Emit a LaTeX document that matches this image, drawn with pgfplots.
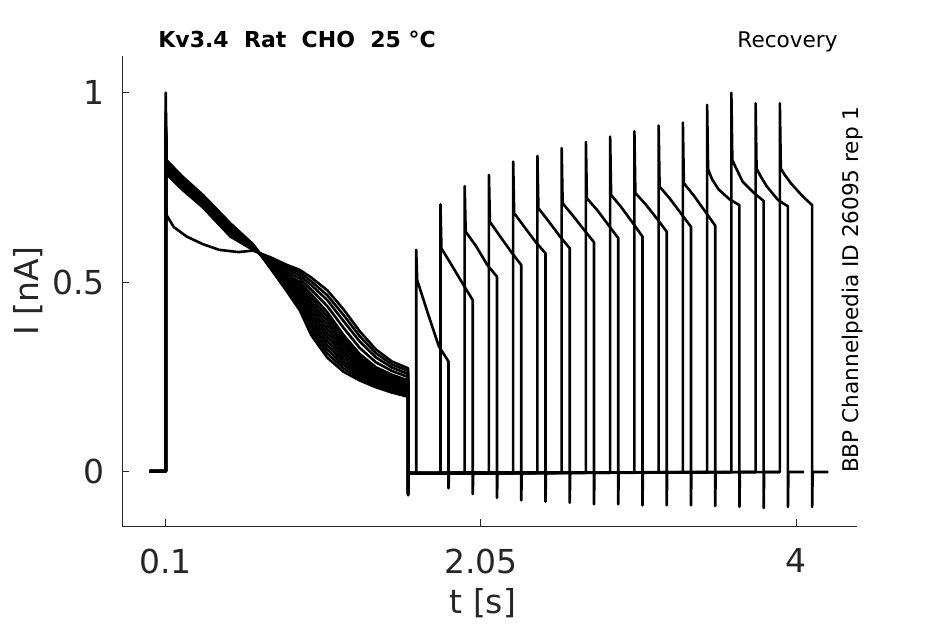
\documentclass[border=0pt]{standalone}
\usepackage{fontspec}
\setmainfont{DejaVu Sans}
\usepackage{pgfplots}
\pgfplotsset{compat=1.18}
\definecolor{axgray}{RGB}{38,38,38}
\pgfplotsset{tr/.style={black, line width=1.3pt, line join=round, mark=none}}
\begin{document}
\begin{tikzpicture}
\useasboundingbox (-61.15pt,-48.85pt) rectangle (411.35pt,263.15pt);
\begin{axis}[
 at={(0,0)}, anchor=south west,
 scale only axis, width=367.2pt, height=235.15pt,
 xmin=-0.1686, xmax=4.3756, ymin=-0.1453, ymax=1.097,
 axis x line*=bottom, axis y line*=left,
 axis line style={draw=axgray, line width=0.5pt, -},
 xtick={0.1,2.05,4}, xticklabels={0.1,2.05,4},
 ytick={0,0.5,1}, yticklabels={0,0.5,1},
 tick align=inside, major tick length=3.5pt,
 tick style={draw=axgray, line width=0.5pt},
 ticklabel style={font=\fontsize{16.5}{18}\selectfont, text=axgray, inner sep=0pt},
 xticklabel style={yshift=-11pt},
 yticklabel style={xshift=-8.65pt},
 /pgf/number format/assume math mode=true,
 xlabel={t [s]}, ylabel={I [nA]},
 label style={font=\fontsize{16.5}{18}\selectfont, text=axgray},
 xlabel style={at={(axis description cs:0.491,-0.163)}, anchor=center},
 ylabel style={at={(axis description cs:-0.1284,0.5)}, anchor=center},
]
% trace 0
\addplot[tr] coordinates {(0,0) (0.1,0) (0.1,0.90) (0.105,0.677) (0.15,0.645) (0.23,0.62) (0.33,0.60) (0.43,0.585) (0.55,0.579) (0.64,0.583) (0.75,0.565) (0.85,0.545) (0.93,0.532) (1.0,0.512) (1.1,0.478) (1.2,0.428) (1.3,0.370) (1.4,0.322) (1.5,0.290) (1.6,0.272) (1.6,-0.050) (1.603,-0.005) (1.65,-0.005) (1.65,0.585) (1.656,0.505) (1.72,0.42) (1.79,0.33) (1.85,0.29) (1.85,-0.045) (1.853,-0.005) (1.95,-0.005)};
% trace 1
\addplot[tr] coordinates {(0,0) (0.1,0) (0.1,0.88) (0.105,0.785) (0.2,0.745) (0.33,0.697) (0.5,0.620) (0.64,0.585) (0.75,0.562) (0.85,0.540) (0.93,0.525) (1.0,0.502) (1.1,0.465) (1.2,0.413) (1.3,0.357) (1.4,0.312) (1.5,0.282) (1.6,0.265) (1.6,-0.051) (1.603,-0.005) (1.80,-0.005) (1.80,0.705) (1.806,0.589) (1.87,0.544) (1.94,0.494) (2.00,0.452) (2.00,-0.060) (2.003,-0.005) (2.10,-0.005)};
% trace 2
\addplot[tr] coordinates {(0,0) (0.1,0) (0.1,0.87) (0.105,0.789) (0.2,0.749) (0.33,0.701) (0.5,0.624) (0.64,0.587) (0.75,0.558) (0.85,0.534) (0.93,0.517) (1.0,0.492) (1.1,0.452) (1.2,0.397) (1.3,0.343) (1.4,0.301) (1.5,0.274) (1.6,0.257) (1.6,-0.052) (1.603,-0.005) (1.95,-0.005) (1.95,0.753) (1.956,0.633) (2.02,0.595) (2.09,0.545) (2.15,0.514) (2.15,-0.070) (2.153,-0.005) (2.25,-0.005)};
% trace 3
\addplot[tr] coordinates {(0,0) (0.1,0) (0.1,0.89) (0.105,0.794) (0.2,0.753) (0.33,0.705) (0.5,0.628) (0.64,0.589) (0.75,0.554) (0.85,0.527) (0.93,0.509) (1.0,0.480) (1.1,0.436) (1.2,0.379) (1.3,0.326) (1.4,0.288) (1.5,0.265) (1.6,0.249) (1.6,-0.053) (1.603,-0.005) (2.10,-0.005) (2.10,0.783) (2.106,0.659) (2.17,0.620) (2.24,0.578) (2.30,0.545) (2.30,-0.077) (2.303,-0.005) (2.40,-0.005)};
% trace 4
\addplot[tr] coordinates {(0,0) (0.1,0) (0.1,0.86) (0.105,0.798) (0.2,0.757) (0.33,0.709) (0.5,0.632) (0.64,0.590) (0.75,0.550) (0.85,0.520) (0.93,0.500) (1.0,0.468) (1.1,0.420) (1.2,0.360) (1.3,0.310) (1.4,0.275) (1.5,0.255) (1.6,0.240) (1.6,-0.054) (1.603,-0.005) (2.25,-0.005) (2.25,0.818) (2.256,0.682) (2.32,0.645) (2.39,0.605) (2.45,0.576) (2.45,-0.080) (2.453,-0.005) (2.55,-0.004)};
% trace 5
\addplot[tr] coordinates {(0,0) (0.1,0) (0.1,0.88) (0.105,0.800) (0.2,0.759) (0.33,0.710) (0.5,0.634) (0.64,0.591) (0.75,0.549) (0.85,0.516) (0.93,0.493) (1.0,0.458) (1.1,0.409) (1.2,0.351) (1.3,0.304) (1.4,0.270) (1.5,0.251) (1.6,0.236) (1.6,-0.055) (1.603,-0.005) (2.40,-0.004) (2.40,0.833) (2.406,0.695) (2.47,0.660) (2.54,0.620) (2.60,0.589) (2.60,-0.083) (2.603,-0.004) (2.70,-0.004)};
% trace 6
\addplot[tr] coordinates {(0,0) (0.1,0) (0.1,0.90) (0.105,0.802) (0.2,0.761) (0.33,0.712) (0.5,0.636) (0.64,0.592) (0.75,0.547) (0.85,0.512) (0.93,0.486) (1.0,0.448) (1.1,0.398) (1.2,0.342) (1.3,0.297) (1.4,0.265) (1.5,0.246) (1.6,0.232) (1.6,-0.056) (1.603,-0.005) (2.55,-0.004) (2.55,0.854) (2.556,0.708) (2.62,0.675) (2.69,0.637) (2.75,0.605) (2.75,-0.087) (2.753,-0.004) (2.85,-0.004)};
% trace 7
\addplot[tr] coordinates {(0,0) (0.1,0) (0.1,0.87) (0.105,0.804) (0.2,0.763) (0.33,0.714) (0.5,0.638) (0.64,0.593) (0.75,0.546) (0.85,0.508) (0.93,0.480) (1.0,0.439) (1.1,0.387) (1.2,0.334) (1.3,0.291) (1.4,0.261) (1.5,0.242) (1.6,0.228) (1.6,-0.057) (1.603,-0.005) (2.70,-0.004) (2.70,0.870) (2.706,0.721) (2.77,0.690) (2.84,0.650) (2.90,0.616) (2.90,-0.087) (2.903,-0.004) (3.00,-0.004)};
% trace 8
\addplot[tr] coordinates {(0,0) (0.1,0) (0.1,0.89) (0.105,0.807) (0.2,0.766) (0.33,0.716) (0.5,0.641) (0.64,0.594) (0.75,0.545) (0.85,0.504) (0.93,0.473) (1.0,0.429) (1.1,0.376) (1.2,0.325) (1.3,0.285) (1.4,0.256) (1.5,0.238) (1.6,0.224) (1.6,-0.058) (1.603,-0.005) (2.85,-0.004) (2.85,0.884) (2.856,0.730) (2.92,0.697) (2.99,0.656) (3.05,0.620) (3.05,-0.090) (3.053,-0.004) (3.15,-0.003)};
% trace 9
\addplot[tr] coordinates {(0,0) (0.1,0) (0.1,0.91) (0.105,0.809) (0.2,0.768) (0.33,0.718) (0.5,0.643) (0.64,0.595) (0.75,0.543) (0.85,0.500) (0.93,0.466) (1.0,0.419) (1.1,0.365) (1.2,0.316) (1.3,0.278) (1.4,0.251) (1.5,0.234) (1.6,0.220) (1.6,-0.059) (1.603,-0.005) (3.00,-0.003) (3.00,0.898) (3.006,0.735) (3.07,0.705) (3.14,0.667) (3.20,0.633) (3.20,-0.090) (3.203,-0.003) (3.30,-0.003)};
% trace 10
\addplot[tr] coordinates {(0,0) (0.1,0) (0.1,0.88) (0.105,0.811) (0.2,0.770) (0.33,0.720) (0.5,0.645) (0.64,0.596) (0.75,0.542) (0.85,0.495) (0.93,0.459) (1.0,0.409) (1.1,0.355) (1.2,0.307) (1.3,0.272) (1.4,0.246) (1.5,0.229) (1.6,0.217) (1.6,-0.060) (1.603,-0.005) (3.15,-0.003) (3.15,0.913) (3.156,0.752) (3.22,0.720) (3.29,0.680) (3.35,0.646) (3.35,-0.090) (3.353,-0.003) (3.45,-0.003)};
% trace 11
\addplot[tr] coordinates {(0,0) (0.1,0) (0.1,0.90) (0.105,0.813) (0.2,0.772) (0.33,0.722) (0.5,0.647) (0.64,0.596) (0.75,0.540) (0.85,0.491) (0.93,0.452) (1.0,0.399) (1.1,0.344) (1.2,0.298) (1.3,0.265) (1.4,0.241) (1.5,0.225) (1.6,0.213) (1.6,-0.061) (1.603,-0.005) (3.30,-0.003) (3.30,0.921) (3.306,0.761) (3.37,0.727) (3.44,0.685) (3.50,0.649) (3.50,-0.092) (3.503,-0.003) (3.60,-0.002)};
% trace 12
\addplot[tr] coordinates {(0,0) (0.1,0) (0.1,0.92) (0.105,0.815) (0.2,0.774) (0.33,0.724) (0.5,0.649) (0.64,0.597) (0.75,0.539) (0.85,0.487) (0.93,0.445) (1.0,0.389) (1.1,0.333) (1.2,0.289) (1.3,0.259) (1.4,0.236) (1.5,0.221) (1.6,0.209) (1.6,-0.062) (1.603,-0.005) (3.45,-0.002) (3.45,0.968) (3.456,0.798) (3.48,0.772) (3.52,0.745) (3.59,0.718) (3.65,0.703) (3.65,-0.094) (3.653,-0.002) (3.75,-0.002)};
% trace 13
\addplot[tr] coordinates {(0,0) (0.1,0) (0.1,0.95) (0.105,0.818) (0.2,0.776) (0.33,0.726) (0.5,0.651) (0.64,0.598) (0.75,0.538) (0.85,0.483) (0.93,0.439) (1.0,0.380) (1.1,0.322) (1.2,0.281) (1.3,0.253) (1.4,0.232) (1.5,0.217) (1.6,0.205) (1.6,-0.062) (1.603,-0.005) (3.60,-0.002) (3.60,1.000) (3.606,0.822) (3.63,0.800) (3.67,0.765) (3.74,0.735) (3.80,0.714) (3.80,-0.097) (3.803,-0.002) (3.90,-0.002)};
% trace 14
\addplot[tr] coordinates {(0,0) (0.1,0) (0.1,0.90) (0.105,0.820) (0.2,0.778) (0.33,0.728) (0.5,0.653) (0.64,0.599) (0.75,0.536) (0.85,0.479) (0.93,0.432) (1.0,0.370) (1.1,0.311) (1.2,0.272) (1.3,0.246) (1.4,0.227) (1.5,0.212) (1.6,0.201) (1.6,-0.063) (1.603,-0.005) (3.75,-0.002) (3.75,0.972) (3.756,0.800) (3.78,0.780) (3.82,0.752) (3.89,0.716) (3.95,0.700) (3.95,-0.094) (3.953,-0.002) (4.05,-0.002)};
% trace 15
\addplot[tr] coordinates {(0,0) (0.1,0) (0.1,1.00) (0.105,0.822) (0.2,0.780) (0.33,0.730) (0.5,0.655) (0.64,0.600) (0.75,0.535) (0.85,0.475) (0.93,0.425) (1.0,0.360) (1.1,0.300) (1.2,0.263) (1.3,0.240) (1.4,0.222) (1.5,0.208) (1.6,0.197) (1.6,-0.063) (1.603,-0.005) (3.90,-0.002) (3.90,0.972) (3.906,0.800) (3.93,0.783) (3.97,0.760) (4.04,0.727) (4.10,0.703) (4.10,-0.094) (4.103,-0.002) (4.20,-0.002)};
\end{axis}
\node[anchor=base west, font=\fontsize{11}{13}\selectfont\bfseries, inner sep=0pt] at (17.85pt,239.5pt) {Kv3.4\ \ Rat\ \ CHO\ \ 25 °C};
\node[anchor=base east, font=\fontsize{10.8}{13}\selectfont, inner sep=0pt] at (357.85pt,239.5pt) {Recovery};
\node[rotate=90, anchor=base west, font=\fontsize{10.8}{13}\selectfont, inner sep=0pt] at (367.85pt,26.5pt) {BBP Channelpedia ID 26095 rep 1};
\end{tikzpicture}
\end{document}
